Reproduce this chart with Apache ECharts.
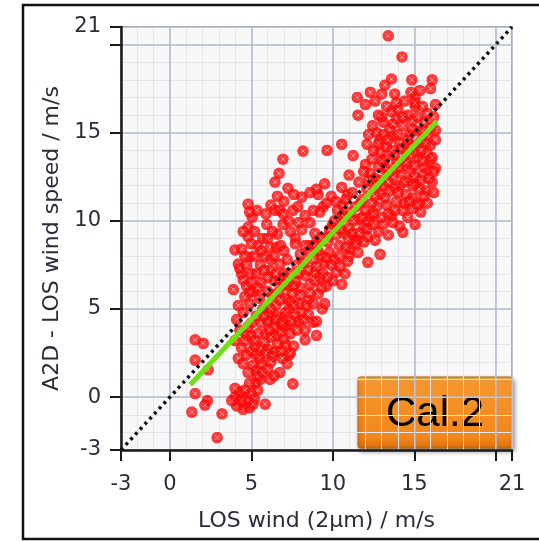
<!DOCTYPE html>
<html>
<head>
<meta charset="utf-8">
<script src="https://cdn.jsdelivr.net/npm/echarts@6/dist/echarts.min.js"></script>
<style>
html,body{margin:0;padding:0;background:#fff;}
#c{width:539px;height:541px;}
</style>
</head>
<body>
<div id="c"></div>
<script>
// ---- data ----
var axisRange = [-3, 21];
var tickValues = [-3, 0, 5, 10, 15, 20, 21];
var labelValues = [-3, 0, 5, 10, 15, 21];

var ptsLow = [
 [1.35,-0.85],[1.55,0.2],[2.3,-0.2],[2.15,-0.45],[3.2,-0.95],[2.9,-2.3],[1.55,2.1],[2.35,1.55],[1.55,3.25],[2.05,3.05],
 [7.55,0.75],[6.75,1.4],[5.85,-0.4],[6.15,1.0],[5.55,1.0],
 [4.0,0.0],[4.2,-0.3],[4.4,0.1],[4.6,-0.5],[4.8,-0.2],[5.0,0.2],[4.5,-0.7],[4.3,0.3],[4.9,-0.6],[5.2,-0.1],[4.1,-0.5],[5.4,0.4],
 [5.1,1.8],[5.3,1.5],[5.25,0.8],[5.4,1.2],[5.6,1.9],[4.2,2.2],[4.5,1.9],[4.7,2.4],[5.0,2.6]
];
var ptsLow2 = [
 [4.4,2.8],[4.7,3.5],[5.0,4.2],[5.3,2.4],[5.6,2.8],[5.9,3.6],[6.2,4.4],[6.5,3.5],[6.8,4.2],[7.1,3.0],
 [7.3,2.4],[6.5,2.6],[5.7,1.4],[6.0,1.6],[6.4,1.2],[4.8,1.4],[4.9,0.8],[4.6,0.4],[5.1,-0.4],[4.4,-0.2],
 [3.8,-0.2],[4.0,0.5],[4.0,3.2]
];
var ptsMidLow = [
 [4.1,4.4],[4.3,3.8],[4.6,3.2],[4.8,4.0],[5.0,3.5],[5.2,2.9],[5.4,3.6],[5.6,4.2],[5.8,3.1],[6.0,2.7],
 [6.2,3.4],[6.4,4.0],[6.6,3.0],[6.8,2.6],[7.0,3.3],[7.2,4.1],[7.4,3.6],[7.6,2.9],[7.8,3.8],[5.3,4.6],
 [5.7,5.0],[6.1,4.7],[6.5,5.2],[6.9,4.5],[7.3,5.0],[7.7,4.6],[4.9,5.3],[5.5,5.6],[6.3,5.8],[6.7,6.0],
 [7.1,5.6],[7.5,5.9],[7.9,5.3],[8.1,4.8],[8.3,3.8],[8.3,3.25],[8.8,4.25],[9.35,5.0],[9.0,4.3],[9.0,3.5],
 [5.9,2.5],[6.3,2.3],[5.5,2.2],[6.0,4.3],[6.8,3.7],[7.4,2.5],[4.5,4.8],[4.2,5.2],[5.1,6.0],[3.9,6.1],
 [4.9,5.95],[8.5,5.5],[8.0,6.2],[8.6,6.4],[6.6,4.6],[7.0,4.0],[5.2,3.2],[6.2,2.0],[6.9,2.2],[7.2,1.9]
];
var ptsBand = [
 [6.2,5.0],[6.5,4.4],[6.8,5.5],[7.1,4.8],[7.4,5.4],[7.7,6.6],[8.0,5.8],[8.3,6.9],[8.6,5.9],[8.9,7.1],
 [9.2,6.8],[9.5,7.6],[9.8,8.2],[10.1,7.8],[10.4,8.6],[10.7,9.3],[11.0,8.0],[11.3,9.0],[11.6,10.1],[11.9,9.6],
 [12.2,10.0],[6.0,6.0],[6.4,6.6],[7.0,7.0],[7.3,6.3],[7.9,7.0],[8.2,7.6],[8.6,8.6],[9.0,8.8],[9.3,8.0],
 [9.7,9.1],[10.3,9.7],[10.6,10.3],[11.1,10.5],[6.9,4.2],[7.6,5.2],[8.4,5.2],[8.8,5.3],[9.6,6.3],[10.2,7.1],
 [10.9,7.7],[11.5,8.9],[5.8,4.6],[6.1,3.8],[7.5,4.3],[7.9,4.3],[8.2,4.4],[8.5,4.7]
];
var ptsMid = [
 [4.4,7.0],[4.5,6.65],[4.2,7.55],[4.9,7.95],[4.0,8.35],[4.4,8.4],[4.8,9.1],[4.8,9.65],[5.05,10.2],[4.8,10.95],
 [5.35,10.6],[4.6,8.0],[4.3,7.3],[4.7,6.3],[5.0,7.0],
 [5.55,7.5],[5.95,9.8],[6.15,8.5],[6.55,8.5],[6.8,8.6],[6.6,9.25],[6.95,9.8],[6.45,10.6],[6.75,10.6],[6.95,10.4],
 [7.7,9.0],[7.7,8.7],[8.1,9.5],[6.75,7.55],[6.15,7.2],[6.0,6.8],[6.75,6.65],[5.6,6.5],[5.3,7.0],[5.8,8.0],
 [7.2,7.8],[7.4,7.0],[7.8,7.5],[8.0,8.1],[8.3,8.6],[7.0,6.4],[7.6,6.3],[5.4,8.6],[5.7,9.0],[6.3,9.4],
 [7.3,10.0],[7.55,10.6],[7.85,10.8],[8.1,11.35],[8.6,11.6],[7.25,11.85],[6.45,12.2],[6.7,12.7],[6.94,13.5],[8.17,13.96],
 [8.5,7.2],[8.8,7.8],[9.1,8.3],[9.4,7.0],[9.7,8.8],[9.9,7.5],[10.2,9.2],[10.4,8.0],[8.9,6.6],[9.3,6.2],
 [9.6,7.9],[10.0,6.6],[10.45,7.4],[10.75,7.0],[10.55,6.4],[9.65,6.8],[9.1,5.85],[9.5,5.3],[10.95,9.0],[11.05,8.4],
 [11.55,8.2],[12.15,9.1],[12.1,9.55],[12.9,8.1],[12.15,7.65],[10.0,9.8],[9.4,10.8],[9.2,10.5],[9.6,11.0],[9.5,12.1],
 [10.55,11.9],[9.1,11.5],[8.9,9.3],[8.6,9.9],[10.7,10.2],[11.0,9.6],[11.3,10.0],[11.6,9.3],
 [10.3,10.6],[10.6,10.9],[10.9,11.5],[11.4,10.8],[11.7,11.0],[10.1,10.0],[11.2,9.3],[11.8,10.2],[12.3,10.3],[12.5,9.8],
 [12.8,9.4],[13.1,9.8],[13.4,9.2],[12.6,8.9],[11.9,8.8],[11.4,8.7],[10.8,8.5],[10.5,9.5],[9.8,9.5],[9.3,9.0],
 [8.9,8.6],[8.6,8.2],[9.0,7.4]
];
var ptsLeft = [
 [4.6,5.7],[5.0,6.5],[5.4,6.2],[5.8,7.2],[6.2,7.8],[6.5,7.0],[4.7,7.5],[5.2,8.0],[5.6,8.3],[6.0,9.0],
 [6.4,8.0],[7.0,8.3],[7.4,9.4],[7.9,9.9],[8.3,10.3],[7.0,11.1],[7.6,11.5],[8.8,10.6],[9.0,11.8],[9.9,11.4],
 [10.2,11.1],[5.0,8.7],[4.5,9.4],[5.2,9.4],[5.9,10.4],[6.2,10.9],[6.6,11.4],[4.9,10.5]
];
var ptsHigh = [
 [12.0,10.6],[12.7,10.8],[13.7,9.9],[14.3,9.35],[15.05,9.8],[14.9,10.7],
 [11.8,11.2],[12.1,11.8],[12.4,11.0],[12.6,12.4],[12.9,11.5],[13.1,12.0],[13.3,10.9],[13.5,11.7],[13.7,12.5],[13.9,11.1],
 [14.1,12.0],[14.3,10.6],[14.5,11.5],[14.7,12.3],[14.9,11.3],[15.1,12.1],[15.3,11.0],[15.5,12.6],[15.7,11.7],[15.9,12.9],
 [16.1,12.2],[16.3,13.0],[13.2,12.9],[12.3,12.7],[12.8,13.1],[14.0,13.2],[14.6,13.4],[15.2,13.6],[15.8,13.8],[16.0,14.3],
 [16.3,14.6],[16.3,15.15],[11.6,12.2],[11.2,11.6],[11.0,12.6],[10.8,11.2],[12.0,13.2],[13.0,10.2],[13.6,10.3],[14.4,11.0],
 [15.4,10.5],[15.6,11.4],[13.4,12.2],[14.2,12.7],[14.8,12.9],[15.0,13.1],
 [9.65,14.0],[10.55,14.35],[12.1,14.35],[11.25,13.7],[12.9,13.9],
 [12.5,14.0],[12.7,15.0],[12.9,14.6],[13.1,15.6],[13.3,14.2],[13.5,15.2],[13.7,14.8],[13.9,15.8],[14.1,14.4],[14.3,15.4],
 [14.5,13.9],[14.7,14.9],[14.9,15.7],[15.0,14.2],[15.2,15.1],[15.4,14.5],[13.0,15.9],[13.6,16.2],[14.0,16.35],[14.6,16.0],
 [15.05,16.5],[15.05,17.0],[12.8,16.0],[12.45,15.4],[12.2,14.9],[13.2,13.5],[13.8,13.7],[15.6,15.6],[15.8,14.9],[16.0,15.3],
 [16.2,15.9],[16.3,16.6],
 [13.4,20.5],[14.25,19.3],[13.6,18.05],[14.85,18.0],[16.1,18.0],[13.2,17.7],[15.35,17.4],[16.0,17.5],[12.3,17.3],[13.0,17.2],
 [11.5,17.0],[12.0,16.6],[11.55,16.0],[15.05,16.7]
];
var ptsHigh2 = [
 [12.6,11.4],[12.9,12.3],[13.2,11.3],[13.5,12.8],[13.8,11.9],[14.1,13.0],[14.4,12.2],[14.7,11.1],[15.0,12.5],[15.3,11.8],
 [15.6,13.1],[15.9,12.4],[16.2,11.6],[12.7,12.0],[13.0,13.4],[13.3,13.0],[13.6,14.0],[13.9,13.3],[14.2,14.1],[14.5,13.3],
 [14.8,14.3],[15.1,13.9],[15.4,14.0],[15.7,14.4],[16.0,13.5],[16.2,12.8],[12.8,14.4],[13.1,14.9],[13.4,14.6],[13.7,15.5],
 [14.0,14.9],[14.3,15.9],[14.6,14.6],[14.9,15.2],[15.2,15.9],[15.5,15.1],[15.8,16.1],[13.9,16.7],[14.4,16.8],[13.3,16.5],
 [12.6,16.8],[14.8,17.3],[15.5,16.5],[13.8,17.2],[12.4,13.5],[12.2,12.3],[11.9,12.8],[12.5,10.4],[13.8,10.6],[14.6,10.2],
 [15.2,10.9],[15.8,11.0],[14.1,9.7],[13.4,10.4],[14.0,11.6],[14.9,12.0],[15.4,12.3],[16.1,13.6],[15.5,13.4]
];
var fitLine = [[1.25, 0.7], [16.4, 15.65]];
var refLine = [[-3, -3], [21, 21]];
var labelText = 'Cal.2';
var xName = 'LOS wind (2\u00b5m) / m/s';
var yName = 'A2D - LOS wind speed / m/s';

// ---- chart ----
var scatterData = ptsLow.concat(ptsLow2, ptsMidLow, ptsBand, ptsMid, ptsLeft, ptsHigh, ptsHigh2);
var markerSvg = "<svg xmlns='http://www.w3.org/2000/svg' width='24' height='24'>" +
  "<circle cx='12' cy='12' r='11.6' fill='#ff0a0a'/>" +
  "<path d='M7.5 7.5L16.5 16.5M16.5 7.5L7.5 16.5' stroke='#ffffff' stroke-width='1.7' stroke-dasharray='2 1.2'/></svg>";
var marker = 'image://data:image/svg+xml;charset=utf-8,' + encodeURIComponent(markerSvg);

var fontFam = '"DejaVu Sans", Verdana, sans-serif';
var textCol = '#2e2a3e';

function majorAxis(isX) {
  return {
    type: 'value', min: axisRange[0], max: axisRange[1], z: 2,
    name: isX ? xName : yName,
    nameLocation: 'middle',
    nameGap: isX ? 60 : 49,
    nameTextStyle: {fontSize: 22, color: textCol, fontFamily: fontFam},
    axisLine: {show: true, onZero: false, lineStyle: {color: '#1a1a1a', width: 2.5}},
    axisTick: {show: true, length: 11, customValues: tickValues, lineStyle: {color: '#1a1a1a', width: 2}},
    axisLabel: {show: true, customValues: labelValues, margin: isX ? 24 : 20, fontSize: 21, color: textCol, fontFamily: fontFam},
    splitLine: {show: true, lineStyle: {color: '#b3bbd3', width: 1.6}},
    position: isX ? 'bottom' : 'left'
  };
}
function minorAxis(isX) {
  return {
    type: 'value', min: axisRange[0], max: axisRange[1], interval: 1, z: 1,
    axisLine: {show: false}, axisTick: {show: false}, axisLabel: {show: false},
    splitLine: {show: true, lineStyle: {color: '#e6e6ea', width: 1}},
    position: isX ? 'top' : 'right'
  };
}

var chart = echarts.init(document.getElementById('c'), null, {renderer: 'canvas'});
chart.setOption({
  animation: false,
  backgroundColor: '#ffffff',
  grid: {left: 121, top: 27, width: 391, height: 423, show: true, backgroundColor: '#f8f8f9', borderColor: '#555', borderWidth: 1.5},
  xAxis: [majorAxis(true), minorAxis(true)],
  yAxis: [majorAxis(false), minorAxis(false)],
  series: [
    {
      type: 'scatter', xAxisIndex: 0, yAxisIndex: 0, z: 3,
      symbol: marker, symbolSize: 12,
      data: scatterData
    },
    {
      type: 'line', xAxisIndex: 0, yAxisIndex: 0, z: 4,
      data: refLine, symbol: 'none',
      lineStyle: {color: '#111', width: 3.5, type: [3, 4]}
    },
    {
      type: 'line', xAxisIndex: 0, yAxisIndex: 0, z: 5,
      data: fitLine, symbol: 'none',
      lineStyle: {color: '#6fe012', width: 5}
    }
  ],
  graphic: [
    {
      type: 'rect', z: 100, silent: true,
      shape: {x: 23, y: 5, width: 540, height: 534},
      style: {fill: 'none', stroke: '#111', lineWidth: 2.5}
    },
    {
      type: 'group', z: 100, silent: true,
      children: [
        {
          type: 'rect',
          shape: {x: 358, y: 377, width: 154, height: 71, r: 2},
          style: {
            fill: new echarts.graphic.LinearGradient(0, 0, 0, 1, [
              {offset: 0, color: '#fcae4e'}, {offset: 0.12, color: '#f7962c'},
              {offset: 0.85, color: '#f2871c'}, {offset: 1, color: '#d9700c'}
            ]),
            stroke: '#b5600c', lineWidth: 1,
            shadowBlur: 5, shadowColor: 'rgba(0,0,0,0.45)', shadowOffsetX: 2, shadowOffsetY: 3
          }
        },
        {
          type: 'text',
          style: {
            x: 435, y: 414, text: labelText, align: 'center', verticalAlign: 'middle',
            font: '42px "Liberation Sans", Arial, sans-serif', fill: '#000'
          }
        }
      ]
    }
  ]
});
</script>
</body>
</html>
